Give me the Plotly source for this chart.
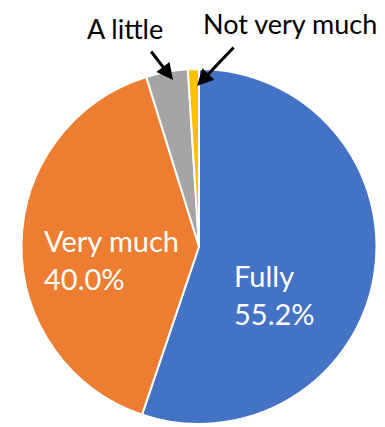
import plotly.graph_objects as go

categories = ["Fully", "Very much", "A little", "Not very much"]
values = [55.2, 40.0, 3.8, 1.0]
colors = ["#4472C4", "#ED7D31", "#A5A5A5", "#FFC000"]

FONT = "Lato"

fig = go.Figure(go.Pie(
    labels=categories,
    values=values,
    sort=False,
    direction="clockwise",
    rotation=0,
    marker=dict(colors=colors, line=dict(color="white", width=2)),
    textinfo="none",
    hoverinfo="label+percent",
    showlegend=False,
    domain=dict(x=[21/385, 377/385], y=[1-424/427, 1-69/427]),
))

def px(x):
    return x / 385

def py(y):
    return 1 - y / 427

def arrow(hx, hy, tx, ty):
    return dict(x=px(hx), y=py(hy), ax=tx - hx, ay=ty - hy, axref="pixel", ayref="pixel",
                xref="paper", yref="paper", text="", showarrow=True, arrowhead=2,
                arrowsize=1.1, arrowwidth=3, arrowcolor="black")

annos = [
    dict(x=px(232), y=py(294), text=f"{categories[0]}<br>{values[0]:.1f}%",
         font=dict(color="white", size=29, family=FONT), showarrow=False, align="left",
         xanchor="left", yanchor="middle"),
    dict(x=px(42), y=py(259), text=f"{categories[1]}<br>{values[1]:.1f}%",
         font=dict(color="white", size=29, family=FONT), showarrow=False, align="left",
         xanchor="left", yanchor="middle"),
    dict(x=px(125), y=py(29), text=categories[2],
         font=dict(color="black", size=27, family=FONT), showarrow=False,
         xanchor="center", yanchor="middle"),
    dict(x=px(290), y=py(24), text=categories[3],
         font=dict(color="black", size=27, family=FONT), showarrow=False,
         xanchor="center", yanchor="middle"),
    arrow(173, 80, 150, 50),
    arrow(197, 86, 235, 46),
]
for a in annos:
    a.setdefault("xref", "paper")
    a.setdefault("yref", "paper")
fig.update_layout(
    width=385, height=427,
    margin=dict(l=0, r=0, t=0, b=0),
    paper_bgcolor="white",
    plot_bgcolor="white",
    annotations=annos,
)

fig.write_html("out.html")
